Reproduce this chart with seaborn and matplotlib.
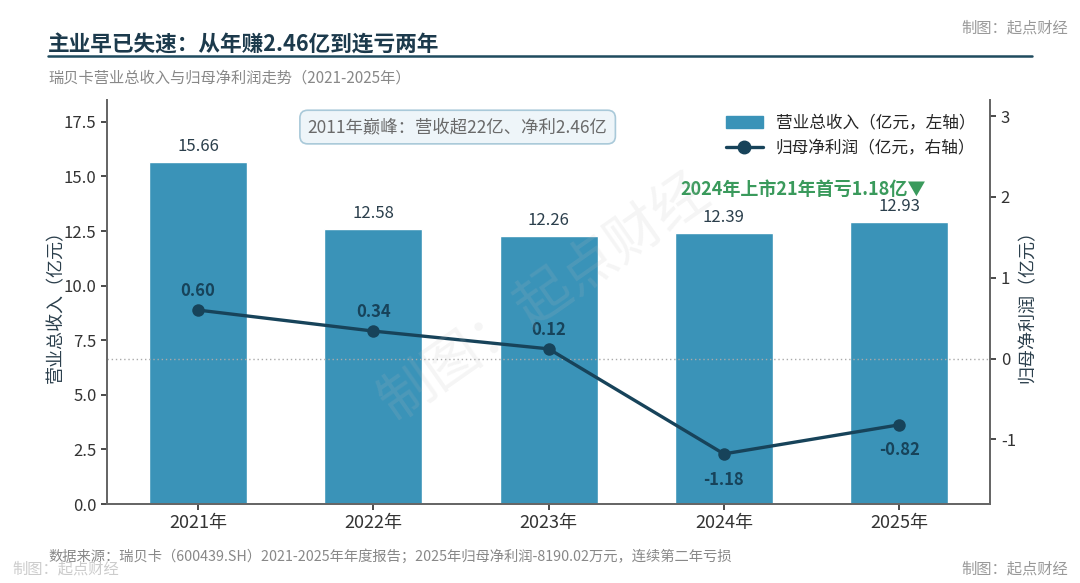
import numpy as np
import pandas as pd
import seaborn as sns
import matplotlib.pyplot as plt
from matplotlib.patches import Patch
from matplotlib.lines import Line2D

years = ['2021年', '2022年', '2023年', '2024年', '2025年']
revenue = [15.66, 12.58, 12.26, 12.39, 12.93]
profit = [0.60, 0.34, 0.12, -1.18, -0.82]

BAR_COLOR = '#3a93b8'
LINE_COLOR = '#17435a'
TEXT_COLOR = '#2b3f4c'
GREEN = '#3a9a5c'

sns.set_theme(style='white')
plt.rcParams['font.family'] = ['Noto Sans CJK SC', 'DejaVu Sans']
plt.rcParams['axes.unicode_minus'] = False

df = pd.DataFrame({'year': years, 'revenue': revenue, 'profit': profit})

fig = plt.figure(figsize=(10.8, 5.83), dpi=100)
ax = fig.add_axes([0.099, 0.1355, 0.818, 0.693])

sns.barplot(data=df, x='year', y='revenue', color=BAR_COLOR, saturation=1,
            width=0.56, ax=ax)
for i, v in enumerate(revenue):
    ax.annotate(f'{v:.2f}', (i, v), xytext=(0, 5), textcoords='offset points',
                ha='center', va='bottom', fontsize=12, color=TEXT_COLOR)

ax2 = ax.twinx()
ax2.axhline(0, color='#aaaaaa', lw=1, ls=(0, (1, 2)), zorder=1)
sns.lineplot(x=np.arange(len(years)), y=profit, ax=ax2, color=LINE_COLOR,
             lw=2.4, marker='o', markersize=9, markeredgewidth=0)
for i, v in enumerate(profit):
    if v >= 0:
        ax2.annotate(f'{v:.2f}', (i, v), xytext=(0, 7), textcoords='offset points',
                     ha='center', va='bottom', fontsize=12, fontweight='bold',
                     color=LINE_COLOR)
    else:
        ax2.annotate(f'{v:.2f}', (i, v), xytext=(0, -12), textcoords='offset points',
                     ha='center', va='top', fontsize=12, fontweight='bold',
                     color=LINE_COLOR)

ax.set_xlim(-0.52, 4.52)
ax.set_ylim(0, 18.5)
ax2.set_ylim(-1.8, 3.2)
ax.set_yticks([0, 2.5, 5, 7.5, 10, 12.5, 15, 17.5])
ax2.set_yticks([-1, 0, 1, 2, 3])
ax.set_xlabel('')
ax.set_ylabel('营业总收入（亿元）', fontsize=13, color=TEXT_COLOR, labelpad=-1)
ax2.set_ylabel('归母净利润（亿元）', fontsize=13, color=TEXT_COLOR, labelpad=2)

for a in (ax, ax2):
    a.tick_params(axis='both', labelsize=12, colors='#333333', length=4,
                  left=(a is ax), right=(a is ax2), bottom=True)
    for s in ['left', 'right', 'bottom']:
        a.spines[s].set_color('#666666')
        a.spines[s].set_linewidth(1.3)
    a.spines['top'].set_visible(False)
    a.grid(False)
ax.tick_params(axis='x', labelsize=13)

handles = [Patch(color=BAR_COLOR),
           Line2D([0], [0], color=LINE_COLOR, lw=2.4, marker='o', markersize=9)]
labels = ['营业总收入（亿元，左轴）', '归母净利润（亿元，右轴）']
ax2.legend(handles, labels, loc='upper right', bbox_to_anchor=(1.0, 1.0),
           frameon=False, fontsize=12, handlelength=2.2, labelspacing=0.5)

ax.text(0.397, 0.933, '2011年巅峰：营收超22亿、净利2.46亿', transform=ax.transAxes,
        ha='center', va='center', fontsize=12.5, color='#6a6a6a',
        bbox=dict(boxstyle='round,pad=0.45', fc='#eef5f9', ec='#a9c9d9', lw=1.2))
ax.text(0.788, 0.778, '2024年上市21年首亏1.18亿▼', transform=ax.transAxes,
        ha='center', va='center', fontsize=13, fontweight='bold', color=GREEN,
        family=['Noto Sans CJK SC', 'DejaVu Sans'])

# titles and notes
fig.text(48 / 1080, 1 - 45 / 583, '主业早已失速：从年赚2.46亿到连亏两年',
         fontsize=15.6, fontweight='bold', color='#1c3a4c', va='center')
fig.add_artist(Line2D([48 / 1080, 1032 / 1080], [1 - 56 / 583] * 2,
                      color='#1f4b5e', lw=1.8))
fig.text(48 / 1080, 1 - 78 / 583, '瑞贝卡营业总收入与归母净利润走势（2021-2025年）',
         fontsize=11, color='#888888', va='center')
fig.text(1068 / 1080, 1 - 28 / 583, '制图：起点财经', fontsize=11,
         color='#999999', ha='right', va='center')
fig.text(48 / 1080, 1 - 556 / 583,
         '数据来源：瑞贝卡（600439.SH）2021-2025年年度报告；2025年归母净利润-8190.02万元，连续第二年亏损',
         fontsize=10.3, color='#888888', va='center')
fig.text(12 / 1080, 1 - 569 / 583, '制图：起点财经', fontsize=11,
         color='#cccccc', va='center')
fig.text(1068 / 1080, 1 - 569 / 583, '制图：起点财经', fontsize=11,
         color='#999999', ha='right', va='center')
fig.text(0.505, 0.49, '制图：起点财经', fontsize=40, color='#bbbbbb', alpha=0.15,
         rotation=35, ha='center', va='center')

fig.savefig('out.png', dpi=100)
